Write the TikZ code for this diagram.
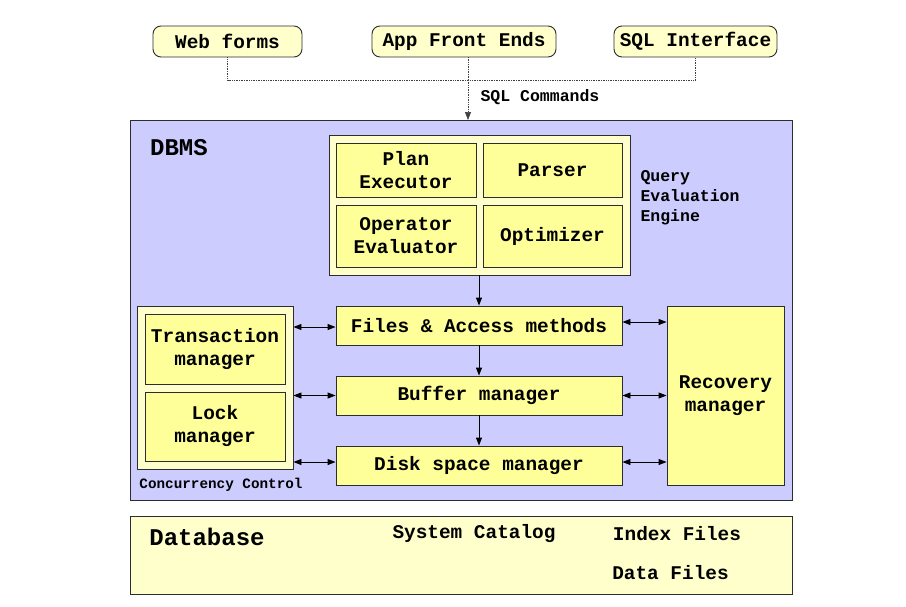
\documentclass[tikz,border=0pt]{standalone}
\usepackage{fontspec}
\setmonofont{Liberation Mono}
\usetikzlibrary{arrows.meta}
\definecolor{lav}{RGB}{204,204,255}
\definecolor{ly}{RGB}{255,255,204}
\definecolor{yy}{RGB}{255,255,153}
\definecolor{edge}{RGB}{45,45,45}
\begin{document}
\begin{tikzpicture}[x=1pt,y=-1pt,
  txt/.style={font=\ttfamily\bfseries\fontsize{19.4}{23}\selectfont, align=center},
  smalltxt/.style={font=\ttfamily\bfseries\fontsize{16.5}{20}\selectfont},
  bigtxt/.style={font=\ttfamily\bfseries\fontsize{24}{28}\selectfont},
  tinytxt/.style={font=\ttfamily\bfseries\fontsize{14.3}{17}\selectfont},
  ybox/.style={txt, draw=edge, fill=yy, line width=0.9pt, inner sep=0pt},
  lbox/.style={draw=edge, fill=ly, line width=0.9pt, inner sep=0pt},
  topbox/.style={ybox, fill=ly, rounded corners=8pt},
  tip/.tip={Triangle[length=8pt,width=6pt]},
  arr/.style={-tip, line width=0.9pt},
  darr/.style={tip-tip, line width=0.9pt},
  dots/.style={densely dotted, line width=0.7pt, draw=black!75}]
\useasboundingbox (0,0) rectangle (906,606);
\fill[white] (0,0) rectangle (906,606);

% top clients
\node[topbox, minimum width=149, minimum height=31] (web) at (227.5,41.5) {Web forms};
\node[topbox, minimum width=184, minimum height=31] (app) at (464,41.5) {App Front Ends};
\node[topbox, minimum width=163, minimum height=31] (sql) at (695.5,41.5) {SQL Interface};

% DBMS box
\node[draw=edge, fill=lav, line width=0.9pt, inner sep=0pt, minimum width=662, minimum height=380] (dbms) at (461,310) {};
\node[bigtxt] (dbmslbl) at (179,148) {DBMS};

\coordinate (jl) at (227.5,80);
\coordinate (jr) at (695.5,80);
\coordinate (jm) at (468,80);
\coordinate (dtop) at (468,120);
\draw[dots] (web.south) |- (jl) -- (jr) -- (sql.south);
\draw[dots] (468,57) -- (jm);
\draw[dots, -tip] (jm) -- (dtop);
\node[smalltxt] (sqlc) at (540,97) {SQL Commands};

% query evaluation engine
\node[lbox, minimum width=301, minimum height=140] (qee) at (479.5,205) {};
\node[ybox, minimum width=140, minimum height=54] (plan) at (406,170) {Plan\\Executor};
\node[ybox, minimum width=139, minimum height=54] (parser) at (552.5,170) {Parser};
\node[ybox, minimum width=140, minimum height=62] (oper) at (406,236) {Operator\\Evaluator};
\node[ybox, minimum width=139, minimum height=62] (opt) at (552.5,236) {Optimizer};
\node[smalltxt, align=left, anchor=west] (qlbl) at (637,198) {Query\\Evaluation\\Engine};

% storage layers
\node[ybox, minimum width=286, minimum height=39] (files) at (479,325.5) {Files \& Access methods};
\node[ybox, minimum width=286, minimum height=39] (buf) at (479,395.5) {Buffer manager};
\node[ybox, minimum width=286, minimum height=39] (disk) at (479,465.5) {Disk space manager};

% concurrency control
\node[lbox, minimum width=156, minimum height=163] (cc) at (215,387.5) {};
\node[ybox, minimum width=140, minimum height=70] (tm) at (215,349) {Transaction\\manager};
\node[ybox, minimum width=140, minimum height=69] (lm) at (215,426.5) {Lock\\manager};
\node[tinytxt] (cclbl) at (221,485) {Concurrency Control};

% recovery
\node[ybox, minimum width=117, minimum height=179] (rec) at (725.5,395.5) {Recovery\\manager};

% arrows
\draw[arr] (qee.south -| files.north) -- (files.north);
\draw[arr] (files.south) -- (buf.north);
\draw[arr] (buf.south) -- (disk.north);

\draw[darr] (cc.east |- 0,327) -- (files.west |- 0,327);
\draw[darr] (cc.east |- buf.west) -- (buf.west);
\draw[darr] (cc.east |- 0,462) -- (disk.west |- 0,462);

\draw[darr] (files.east |- 0,322) -- (rec.west |- 0,322);
\draw[darr] (buf.east) -- (rec.west |- buf.east);
\draw[darr] (disk.east |- 0,462) -- (rec.west |- 0,462);

% database
\node[lbox, minimum width=662, minimum height=78] (db) at (461,555) {};
\node[bigtxt] (dblbl) at (207,537) {Database};
\node[txt] (cat) at (474,534) {System Catalog};
\node[txt] (idx) at (677,534) {Index Files};
\node[txt] (data) at (670.5,573) {Data Files};
\end{tikzpicture}
\end{document}
